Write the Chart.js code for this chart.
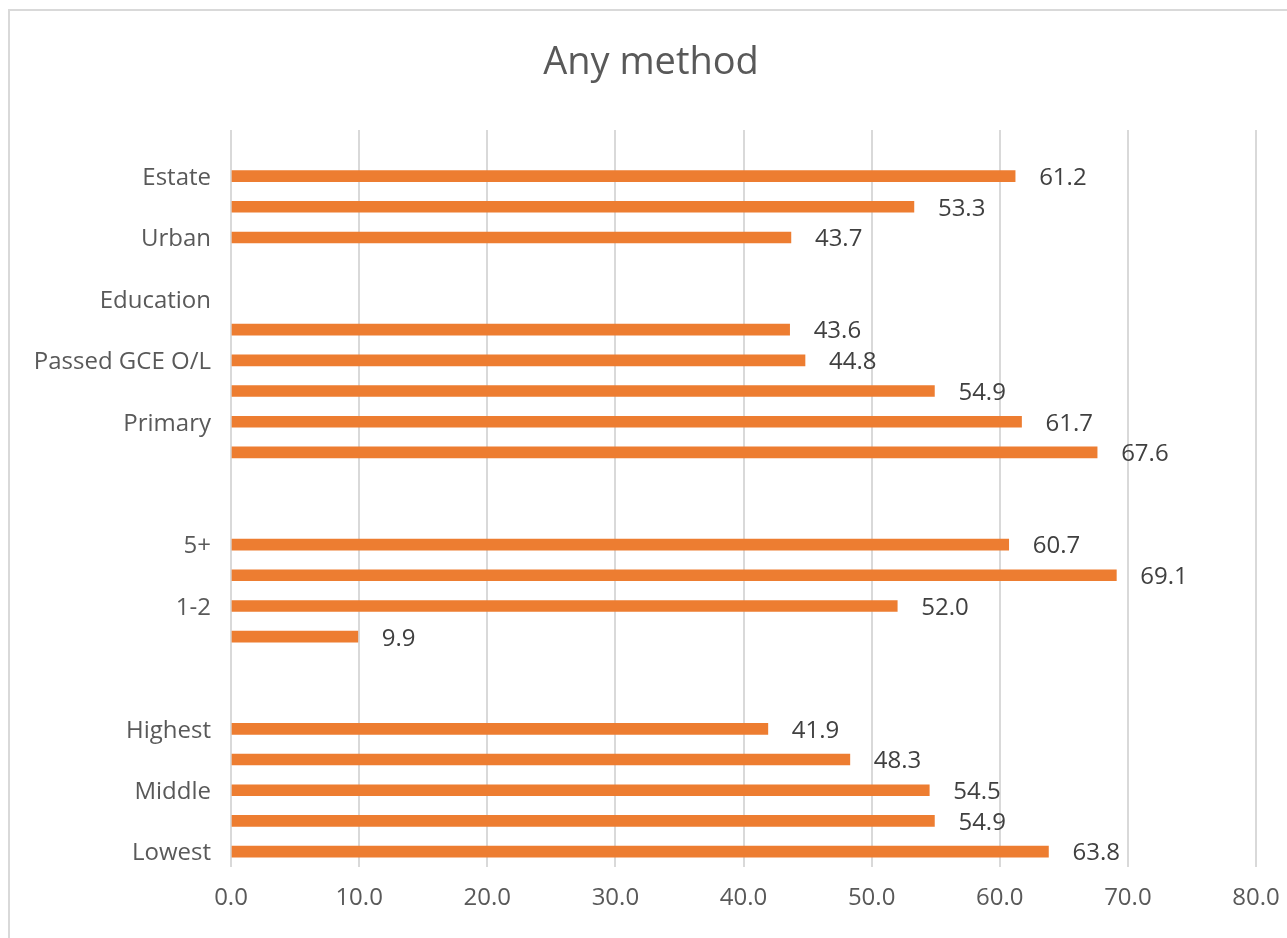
<!DOCTYPE html>
<html>
<head>
<meta charset="utf-8">
<script src="https://cdn.jsdelivr.net/npm/chart.js@4/dist/chart.umd.min.js"></script>
<style>
  body { margin: 0; background: #fff; }
  #frame { position: absolute; left: 8px; top: 9px; width: 1300px; height: 1000px; border: 2px solid #d9d9d9; }
  #wrap { position: absolute; left: 0; top: 0; width: 1287px; height: 938px; }
</style>
</head>
<body>
<div id="frame"></div>
<div id="wrap"><canvas id="myChart"></canvas></div>
<script>
'use strict'

// top to bottom, blank names are rows Excel didn't label
let categories = ['', 'Estate', '', 'Urban', '', 'Education', '', 'Passed GCE O/L', '', 'Primary', '', '',
  '', '5+', '', '1-2', '', '', '', 'Highest', '', 'Middle', '', 'Lowest'];
let anyMethod = [null, 61.2, 53.3, 43.7, null, null, 43.6, 44.8, 54.9, 61.7, 67.6, null,
  null, 60.7, 69.1, 52.0, 9.9, null, null, 41.9, 48.3, 54.5, 54.9, 63.8];
let xTicks = [0, 10, 20, 30, 40, 50, 60, 70, 80];
let chartTitle = 'Any method';

let fontName = '"Open Sans", sans-serif';

// value labels next to each bar
let barLabels = {
  id: 'barLabels',
  afterDatasetsDraw(chart) {
    let ctx = chart.ctx;
    let meta = chart.getDatasetMeta(0);
    ctx.save();
    ctx.font = '24px ' + fontName;
    ctx.fillStyle = '#404040';
    ctx.textAlign = 'left';
    ctx.textBaseline = 'middle';
    meta.data.forEach(function (bar, i) {
      let v = anyMethod[i];
      if (v === null) return;
      ctx.fillText(v.toFixed(1), bar.x + 24, bar.y + 2);
    });
    // title, centred on the whole frame like excel does
    ctx.font = '38px ' + fontName;
    ctx.fillStyle = '#595959';
    ctx.textAlign = 'center';
    ctx.fillText(chartTitle, 651, 63);
    ctx.restore();
  }
};

let ctx = document.getElementById('myChart').getContext('2d');
let myChart = new Chart(ctx, {
  type: 'bar',
  data: {
    labels: categories,
    datasets: [{
      label: chartTitle,
      data: anyMethod,
      backgroundColor: '#ed7d31',
      barThickness: 11
    }]
  },
  options: {
    responsive: true,
    maintainAspectRatio: false,
    animation: false,
    indexAxis: 'y',
    layout: { padding: { top: 130, right: 31, bottom: 0, left: 0 } },
    plugins: {
      legend: { display: false },
      tooltip: { enabled: false },
      title: { display: false }
    },
    scales: {
      x: {
        min: 0,
        max: 80,
        afterBuildTicks(scale) {
          scale.ticks = xTicks.map(v => ({ value: v }));
        },
        ticks: {
          color: '#595959',
          font: { family: fontName, size: 24 },
          padding: 17,
          callback: v => v.toFixed(1)
        },
        grid: { color: '#d9d9d9', lineWidth: 2, drawTicks: false },
        border: { display: false },
        afterFit(scale) {
          scale.height = 71;
          scale.paddingLeft = 0;
          scale.paddingRight = 0;
        }
      },
      y: {
        ticks: {
          color: '#595959',
          font: { family: fontName, size: 24 },
          padding: 12,
          labelOffset: 2,
          autoSkip: false
        },
        grid: { display: false },
        border: { display: false },
        afterFit(scale) { scale.width = 231; }
      }
    }
  },
  plugins: [barLabels]
});
</script>
</body>
</html>
